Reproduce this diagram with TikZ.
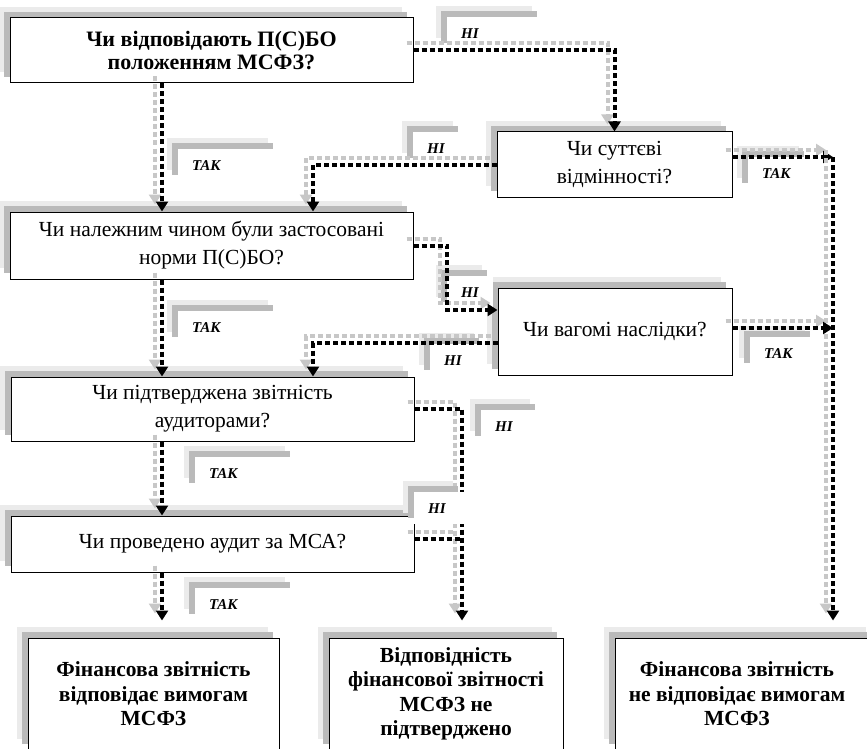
\documentclass[tikz,border=0pt]{standalone}
\usepackage{fontspec}
\setmainfont{Liberation Serif}
\usetikzlibrary{arrows.meta,shadows}

% fonts: questions, bold question, result boxes, yes/no tags
\newcommand\qfont{\fontsize{21.5}{28}\selectfont}
\newcommand\qbfont{\fontsize{22}{23.5}\selectfont\bfseries}
\newcommand\rfont{\fontsize{21.5}{24.5}\selectfont\bfseries}
\newcommand\tfont{\fontsize{15}{15}\selectfont\bfseries\itshape}

\tikzset{
  twotone/.style={
    general shadow={fill=black!8, shadow xshift=-11pt, shadow yshift=11pt},
    general shadow={fill=black!27, shadow xshift=-6pt, shadow yshift=6pt}},
  qbox/.style={twotone, draw=black, line width=1pt, fill=white,
    inner sep=0pt, align=center, font=\qfont},
  rbox/.style={qbox, font=\rfont},
  tagbox/.style={twotone, fill=white, inner sep=0pt, minimum height=32pt,
    anchor=north west},
  tagtext/.style={font=\tfont, inner sep=0pt, anchor=west, xshift=14pt},
  conn/.style={draw=black, line width=4pt, dash pattern=on 5pt off 3pt,
    -{Triangle[length=10pt,width=12pt]}},
  connshade/.style={conn, draw=black!22, transform canvas={shift={(-7pt,7pt)}}},
}

% a dotted connector with its offset grey shadow
\newcommand\flow[2][]{%
  \draw[connshade,#1] #2;
  \draw[conn,#1] #2;}

\begin{document}
\begin{tikzpicture}[x=1pt,y=-1pt]
\clip (0,0) rectangle (867,749);
\fill[white] (0,0) rectangle (867,749);

% decision boxes
\node[qbox, font=\qbfont, minimum width=403pt, minimum height=65pt] (b1) at (211.5,50.5)
  {\rule{0pt}{4pt}Чи відповідають П(С)БО\\положенням МСФЗ?};
\node[qbox, minimum width=235pt, minimum height=65pt] (b2) at (614.5,164.5)
  {Чи суттєві\\відмінності?};
\node[qbox, minimum width=403pt, minimum height=67pt] (b3) at (211.5,245.5)
  {Чи належним чином були застосовані\\норми П(С)БО?};
\node[qbox, minimum width=234pt, minimum height=87pt] (b4) at (615,331.5)
  {Чи вагомі наслідки?};
\node[qbox, minimum width=403pt, minimum height=64pt] (b5) at (212.5,409)
  {Чи підтверджена звітність\\аудиторами?};
\node[qbox, minimum width=403pt, minimum height=56pt] (b6) at (212.5,544)
  {Чи проведено аудит за МСА?};

% result boxes
\node[rbox, minimum width=251pt, minimum height=112pt] (bA) at (153.5,694)
  {Фінансова звітність\\відповідає вимогам\\МСФЗ};
\node[rbox, minimum width=234pt, minimum height=112pt] (bB) at (446,694)
  {Відповідність\\фінансової звітності\\МСФЗ не\\підтверджено};
\node[rbox, minimum width=262pt, minimum height=112pt,
  label={[font=\rfont, align=center, inner sep=0pt, xshift=-9pt]center:Фінансова звітність\\не відповідає вимогам\\МСФЗ}]
  (bC) at (746,694) {};

% columns and junctions of the connectors
\coordinate (colA) at (162,0);
\coordinate (colB) at (313,0);
\coordinate (colD) at (447,0);
\coordinate (colE) at (462,0);
\coordinate (jR) at (833,157);
\coordinate (b2out) at ([yshift=7.5pt]b2.east);
\coordinate (b4in) at ([yshift=21.5pt]b4.west);
\coordinate (b4outR) at ([yshift=3.5pt]b4.east);
\coordinate (b4outL) at ([yshift=-11.5pt]b4.west);
\coordinate (b6out) at ([yshift=5pt]b6.east);

% audit not confirmed: runs behind the tag below
\flow[shorten >=17pt]{(b5.east) -- (b5.east -| colE) -- (bB.north -| colE)}

% yes / no tags
\node[tagbox, minimum width=101pt, label={[tagtext]west:ТАК}] (t1) at (178,149) {};
\node[tagbox, minimum width=96pt,  label={[tagtext]west:НІ}]  (t2) at (447,17) {};
\node[tagbox, minimum width=51pt,  label={[tagtext]west:НІ}]  (t3) at (413,132) {};
\node[tagbox, minimum width=62pt,  label={[tagtext]west:ТАК}] (t4) at (748,157) {};
\node[tagbox, minimum width=46pt,  label={[tagtext]west:НІ}]  (t5) at (447,276) {};
\node[tagbox, minimum width=66pt,  label={[tagtext]west:ТАК}] (t6) at (750,337) {};
\node[tagbox, minimum width=55pt,  label={[tagtext]west:НІ}]  (t7) at (430,344) {};
\node[tagbox, minimum width=60pt,  label={[tagtext]west:НІ}]  (t8) at (481,410) {};
\node[tagbox, minimum width=50pt,  label={[tagtext]west:НІ}]  (t9) at (414,492) {};
\node[tagbox, minimum width=101pt, label={[tagtext]west:ТАК}] (t10) at (178,311) {};
\node[tagbox, minimum width=101pt, label={[tagtext]west:ТАК}] (t11) at (195,457) {};
\node[tagbox, minimum width=101pt, label={[tagtext]west:ТАК}] (t12) at (195,588) {};

% connectors
\flow{(b1.south -| colA) -- (b3.north -| colA)}
\flow{(b1.east) -- (b1.east -| b2.north) -- (b2.north)}
\flow{(b2.west) -- (b2.west -| colB) -- (b3.north -| colB)}
\flow{(b2out) -- (jR)}
\flow[shorten >=17pt]{(jR) -- (jR |- bC.north)}
\flow{(b3.east) -- (b3.east -| colD) -- (b4in -| colD) -- (b4in)}
\flow{(b4outR) -- (b4outR -| jR)}
\flow{(b4outL) -- (b4outL -| colB) -- (b5.north -| colB)}
\flow{(b3.south -| colA) -- (b5.north -| colA)}
\flow[-]{(b6out) -- (b6out -| colE)}
\flow{(b5.south -| colA) -- (b6.north -| colA)}
\flow[shorten >=17pt]{(b6.south -| colA) -- (bA.north -| colA)}
\end{tikzpicture}
\end{document}
